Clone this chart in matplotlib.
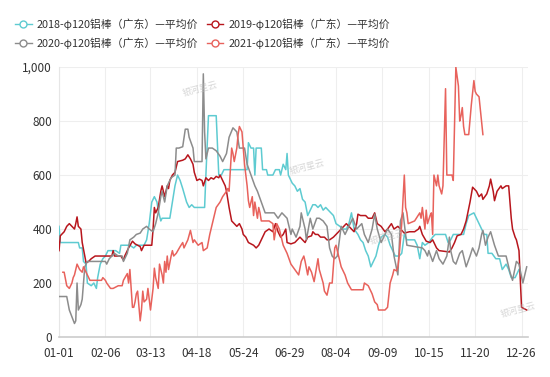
import matplotlib
matplotlib.use("Agg")
import matplotlib.pyplot as plt
from matplotlib.lines import Line2D

# x positions are day-of-year index (0 = 01-01)
tick_days = [0, 36, 71, 107, 143, 179, 215, 251, 287, 323, 359]
tick_labels = ["01-01", "02-06", "03-13", "04-18", "05-24", "06-29",
               "08-04", "09-09", "10-15", "11-20", "12-26"]

names = ["2018-φ120铝棒（广东）—平均价", "2019-φ120铝棒（广东）—平均价",
         "2020-φ120铝棒（广东）—平均价", "2021-φ120铝棒（广东）—平均价"]
colors = ["#5ECBD1", "#B8161D", "#8C8C8C", "#E8625C"]

days_2018 = [0, 1, 15, 16, 18, 19, 21, 22, 25, 27, 29, 30, 32, 34, 36, 38, 44, 47, 48, 55,
             58, 60, 66, 68, 70, 72, 74, 76, 77, 79, 80, 86, 88, 90, 92, 94, 96, 99, 101, 103,
             105, 113, 114, 116, 122, 124, 126, 128, 146, 147, 149, 151, 152, 153, 157, 158,
             161, 162, 166, 168, 171, 172, 174, 176, 177, 178, 181, 183, 185, 187, 189, 191,
             193, 195, 197, 199, 201, 203, 205, 207, 209, 211, 213, 215, 218, 220, 223, 225,
             227, 229, 232, 234, 236, 238, 240, 242, 244, 246, 248, 250, 253, 255, 257, 259,
             261, 264, 266, 268, 270, 276, 278, 280, 282, 284, 287, 290, 292, 300, 302, 304,
             306, 314, 316, 318, 322, 324, 326, 328, 330, 332, 333, 336, 339, 342, 344, 347,
             349, 351, 354, 357]
vals_2018 = [410, 350, 350, 330, 330, 280, 270, 200, 190, 200, 180, 220, 270, 290, 300, 320, 320, 310, 340, 340,
             330, 340, 340, 360, 420, 500, 520, 500, 470, 430, 440, 440, 500, 560, 600, 580, 550, 500, 480, 490,
             480, 480, 600, 820, 820, 600, 600, 620, 620, 720, 700, 700, 600, 700, 700, 620,
             620, 600, 600, 620, 620, 600, 640, 620, 680, 600, 570, 560, 540, 550, 510, 500,
             450, 470, 490, 490, 480, 490, 470, 480, 470, 460, 450, 420, 410, 400, 400, 420,
             460, 400, 380, 360, 350, 320, 300, 260, 280, 300, 340, 370, 380, 370, 340, 320,
             300, 300, 310, 380, 360, 360, 340, 290, 350, 340, 350, 370, 380, 380, 350, 360,
             380, 380, 420, 450, 460, 440, 420, 400, 380, 380, 310, 310, 290, 290, 250, 270,
             250, 220, 220, 250]

days_2019 = [0, 1, 4, 6, 8, 10, 12, 13, 14, 15, 17, 18, 20, 21, 23, 25, 28, 41, 42, 43,
             48, 50, 51, 54, 57, 59, 61, 63, 64, 66, 72, 73, 74, 75, 77, 79, 80, 82, 84, 85,
             86, 88, 90, 92, 96, 98, 100, 102, 104, 105, 107, 109, 111, 112, 114, 116, 118, 120,
             122, 124, 125, 127, 129, 130, 132, 134, 136, 138, 140, 142, 143, 145, 147, 149,
             151, 153, 155, 156, 158, 160, 163, 166, 168, 170, 172, 174, 176, 177, 180, 183,
             185, 187, 189, 191, 193, 196, 197, 199, 201, 203, 206, 208, 210, 213, 215, 217,
             219, 221, 223, 225, 227, 229, 231, 232, 234, 238, 240, 243, 245, 247, 250, 253,
             255, 258, 260, 263, 265, 268, 272, 276, 279, 280, 282, 285, 288, 290, 293, 295,
             303, 305, 307, 309, 312, 314, 316, 319, 321, 324, 326, 328, 329, 332, 334, 335,
             337, 338, 340, 343, 344, 347, 349, 351, 352, 354, 355, 357, 359, 363]
vals_2019 = [320, 375, 390, 410, 420, 410, 400, 420, 445, 410, 400, 350, 300, 275, 280, 290, 300, 300, 320, 300,
             300, 285, 300, 330, 355, 345, 340, 335, 320, 340, 340, 400, 480, 460, 480, 540, 560, 520, 560, 550,
             580, 600, 610, 650, 655, 660, 675, 660, 640, 610, 580, 585, 580, 560, 590, 580, 590, 585,
             595, 590, 600, 580, 560, 540, 480, 430, 420, 410, 420, 400, 380, 370, 350, 345,
             340, 330, 340, 350, 370, 390, 400, 390, 420, 390, 370, 380, 400, 350, 345, 350,
             360, 370, 360, 350, 370, 375, 390, 380, 380, 370, 370, 360, 360, 370, 380, 390,
             400, 410, 420, 410, 400, 390, 420, 455, 450, 450, 440, 440, 460, 420, 410, 390,
             400, 420, 400, 410, 400, 385, 390, 390, 400, 410, 380, 355, 350, 360, 330, 320,
             315, 330, 350, 375, 380, 400, 430, 500, 555, 540, 520, 530, 510, 530, 560, 585,
             540, 505, 540, 560, 550, 560, 560, 440, 400, 370, 360, 320, 110, 100]

days_2020 = [0, 6, 8, 10, 12, 13, 14, 15, 17, 18, 20, 22, 36, 37, 39, 41, 43, 46, 49, 50,
             53, 55, 58, 60, 63, 65, 68, 70, 73, 75, 77, 79, 80, 82, 84, 87, 90, 91, 93, 96,
             98, 100, 101, 104, 105, 111, 112, 113, 114, 116, 119, 122, 125, 127, 130, 132,
             135, 138, 140, 144, 146, 149, 152, 154, 157, 160, 163, 167, 170, 173, 175, 177,
             180, 181, 184, 187, 188, 191, 192, 195, 197, 200, 202, 205, 208, 210, 212, 214,
             216, 219, 222, 226, 228, 231, 235, 237, 240, 243, 245, 247, 250, 253, 255, 258,
             260, 263, 265, 267, 268, 270, 282, 284, 286, 287, 290, 293, 295, 298, 301, 303,
             304, 306, 308, 311, 313, 316, 319, 321, 324, 326, 328, 329, 331, 333, 335, 338,
             341, 347, 350, 352, 355, 357, 360, 363]
vals_2020 = [150, 150, 100, 75, 50, 60, 200, 100, 120, 140, 260, 280, 280, 270, 290, 300, 310, 300, 300, 280,
             310, 360, 370, 380, 385, 400, 410, 400, 390, 420, 460, 520, 540, 500, 560, 590, 600, 700, 700, 705,
             770, 770, 740, 700, 650, 650, 975, 760, 660, 700, 700, 690, 670, 650, 680, 740,
             775, 760, 700, 700, 640, 600, 560, 540, 500, 460, 460, 460, 440, 460, 450, 440,
             380, 400, 370, 410, 460, 400, 360, 440, 400, 440, 440, 430, 410, 330, 300, 290,
             300, 410, 380, 420, 440, 400, 420, 380, 350, 400, 455, 400, 350, 380, 400, 380,
             300, 230, 430, 460, 420, 340, 330, 320, 300, 320, 280, 320, 290, 270, 300, 370,
             320, 280, 270, 310, 320, 260, 300, 330, 300, 330, 380, 395, 340, 370, 390, 340,
             300, 300, 240, 210, 280, 270, 200, 260]

days_2021 = [3, 4, 6, 8, 10, 11, 12, 14, 16, 18, 19, 21, 23, 24, 33, 34, 36, 37, 40, 42,
             46, 49, 50, 53, 54, 55, 57, 58, 59, 60, 61, 63, 64, 65, 66, 68, 69, 71, 73, 74,
             75, 77, 78, 80, 81, 82, 83, 84, 85, 87, 88, 89, 91, 94, 96, 97, 100, 102, 104, 105,
             108, 111, 112, 115, 117, 120, 122, 125, 127, 130, 131, 132, 134, 135, 136, 138,
             139, 140, 142, 143, 144, 146, 147, 148, 150, 151, 152, 154, 155, 156, 157, 163,
             166, 167, 169, 171, 174, 177, 180, 183, 186, 188, 190, 191, 193, 194, 196, 198,
             201, 202, 205, 206, 208, 210, 212, 214, 215, 216, 218, 219, 222, 224, 227, 236,
             237, 240, 243, 245, 247, 248, 253, 255, 257, 259, 260, 262, 263, 264, 266, 268,
             269, 270, 271, 276, 280, 281, 282, 284, 285, 286, 288, 289, 290, 291, 293, 294,
             295, 297, 298, 300, 301, 305, 306, 308, 310, 311, 312, 313, 314, 315, 318, 320,
             322, 323, 324, 326, 329]
vals_2021 = [240, 240, 190, 180, 200, 220, 230, 270, 250, 240, 260, 240, 220, 210, 210, 220, 210, 200, 180, 180,
             190, 190, 210, 235, 200, 250, 110, 110, 130, 160, 170, 60, 100, 170, 130, 140, 180, 100, 180, 255,
             220, 180, 270, 230, 200, 280, 240, 300, 250, 300, 320, 300, 310, 335, 350, 330, 360, 395, 350, 360,
             340, 350, 320, 330, 380, 440, 480, 500, 520, 540, 550, 540, 700, 680, 650, 700,
             750, 780, 760, 700, 640, 560, 505, 480, 520, 450, 500, 440, 480, 460, 430, 430,
             420, 360, 420, 400, 340, 310, 270, 250, 230, 280, 300, 280, 230, 260, 240, 205,
             290, 250, 200, 170, 155, 200, 200, 330, 340, 320, 280, 260, 230, 200, 175, 175,
             200, 190, 160, 130, 120, 100, 100, 110, 200, 230, 250, 245, 260, 300, 420, 600,
             480, 460, 420, 430, 460, 440, 480, 400, 470, 420, 450, 460, 380, 600, 560, 600,
             560, 530, 560, 920, 600, 600, 580, 1000, 930, 800, 820, 850, 780, 750, 750, 860,
             950, 910, 900, 890, 750]

series = [(days_2018, vals_2018), (days_2019, vals_2019),
          (days_2020, vals_2020), (days_2021, vals_2021)]

plt.rcParams["font.family"] = ["Noto Sans CJK SC", "DejaVu Sans"]

fig = plt.figure(figsize=(5.5, 3.77), dpi=100)
ax = fig.add_axes([0.1073, 0.1061, 0.8527, 0.7159])

for (d, v), c, n in zip(series, colors, names):
    ax.plot(d, v, color=c, linewidth=1.1, label=n, zorder=3)

ax.set_xlim(0, 364)
ax.set_ylim(0, 1000)
ax.set_xticks(tick_days)
ax.set_xticklabels(tick_labels)
ax.set_yticks([0, 200, 400, 600, 800, 1000])
ax.set_yticklabels(["0", "200", "400", "600", "800", "1,000"])
ax.tick_params(axis="both", length=0, labelsize=8.5, colors="#333333")
ax.tick_params(axis="x", pad=7)
ax.tick_params(axis="y", pad=5)
ax.grid(True, color="#EEEEEE", linewidth=0.8, zorder=0)
ax.set_axisbelow(True)
for s in ["top", "right"]:
    ax.spines[s].set_visible(False)
ax.spines["left"].set_color("#E6E6E6")
ax.spines["bottom"].set_color("#CCCCCC")
ax.spines["bottom"].set_linewidth(1.2)

# watermarks
for wx, wy in [(0.30, 0.92), (0.53, 0.63), (0.70, 0.37), (0.98, 0.10)]:
    ax.text(wx, wy, "银河星云", transform=ax.transAxes, fontsize=6.5,
            color="#BBBBBB", alpha=0.6, rotation=15, ha="center", va="center")

# legend: line + hollow circle icons, row-wise order (2018, 2019 / 2020, 2021)
handles = [Line2D([0], [0], color=c, linewidth=1.0, marker="o", markersize=5,
                  markerfacecolor="white", markeredgecolor=c, markeredgewidth=1.0)
           for c in colors]
order = [0, 2, 1, 3]
fig.legend([handles[i] for i in order], [names[i] for i in order],
           loc="upper left", bbox_to_anchor=(0.01, 0.978),
           ncol=2, frameon=False, fontsize=7.8, handlelength=1.5, handletextpad=0.5,
           columnspacing=0.8, labelspacing=0.75, labelcolor="#333333")

fig.savefig("out.png", dpi=100)
